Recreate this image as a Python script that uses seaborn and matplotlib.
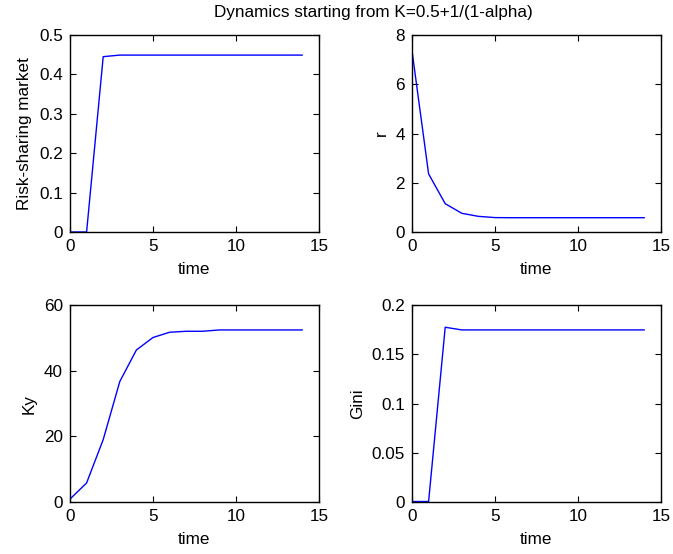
import matplotlib
matplotlib.use("Agg")
import matplotlib.pyplot as plt
import seaborn as sns
import numpy as np

# time axis and the four series
time = list(range(15))
risk_sharing = [0, 0, 0.445, 0.449, 0.449, 0.449, 0.449, 0.449, 0.449, 0.449, 0.449, 0.449, 0.449, 0.449, 0.449]
r_vals = [7.36, 2.36, 1.15, 0.76, 0.635, 0.585, 0.58, 0.58, 0.58, 0.58, 0.58, 0.58, 0.58, 0.58, 0.58]
ky_vals = [0.9, 5.8, 19.0, 36.7, 46.3, 50.1, 51.7, 52.0, 52.0, 52.4, 52.4, 52.4, 52.4, 52.4, 52.4]
gini_vals = [0.0005, 0.0005, 0.1774, 0.1747, 0.1747, 0.1747, 0.1747, 0.1747, 0.1747, 0.1747, 0.1747, 0.1747, 0.1747, 0.1747, 0.1747]

panels = [
    (risk_sharing, "Risk-sharing market", (0, 0.5), [0, 0.1, 0.2, 0.3, 0.4, 0.5]),
    (r_vals, "r", (0, 8), [0, 2, 4, 6, 8]),
    (ky_vals, "Ky", (0, 60), [0, 20, 40, 60]),
    (gini_vals, "Gini", (0, 0.2), [0, 0.05, 0.1, 0.15, 0.2]),
]

sns.set_style("ticks", {"axes.edgecolor": "black", "xtick.color": "black",
                        "ytick.color": "black", "text.color": "black",
                        "axes.labelcolor": "black"})
plt.rcParams["font.family"] = ["Liberation Sans", "DejaVu Sans"]
plt.rcParams["font.size"] = 12.3

fig = plt.figure(figsize=(6.73, 5.54), dpi=100)
W, H = 673, 554
boxes = [(70, 35), (412, 35), (70, 305), (412, 305)]
for (vals, label, ylim, yticks), (x0, y0) in zip(panels, boxes):
    ax = fig.add_axes([x0 / W, 1 - (y0 + 197) / H, 249 / W, 197 / H])
    sns.lineplot(x=time, y=vals, ax=ax, color="#0000ff", linewidth=1)
    ax.set_xlim(0, 15)
    ax.set_ylim(*ylim)
    ax.set_xticks([0, 5, 10, 15])
    ax.set_yticks(yticks)
    ax.set_yticklabels([f"{t:g}" for t in yticks])
    ax.set_xlabel("time", labelpad=5.5)
    ax.set_ylabel(label, labelpad=5)
    ax.tick_params(direction="in", top=True, right=True, length=4, width=0.8,
                   pad=5, labelsize=12.3, colors="black")
    for s in ax.spines.values():
        s.set_linewidth(1)
        s.set_color("black")
        s.set_visible(True)

fig.text(373 / W, 1 - 12 / H, "Dynamics starting from K=0.5+1/(1-alpha)",
         ha="center", va="center", fontsize=12.3)

fig.savefig("out.png", dpi=100)
